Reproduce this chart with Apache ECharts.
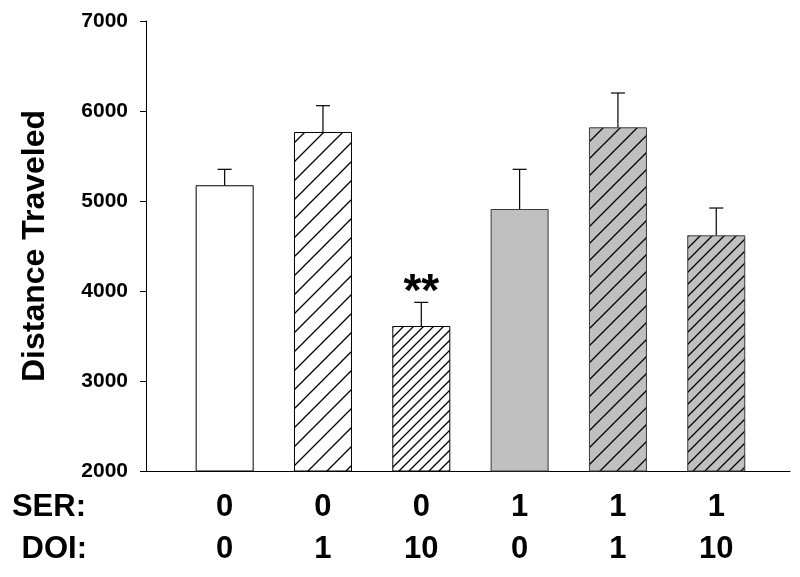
<!DOCTYPE html>
<html>
<head>
<meta charset="utf-8">
<script src="https://cdn.jsdelivr.net/npm/echarts@6/dist/echarts.min.js"></script>
<style>
  html, body { margin: 0; padding: 0; background: #fff; }
  #chart { width: 800px; height: 577px; }
</style>
</head>
<body>
<div id="chart"></div>
<script>
// ---- data ----
const serLabels = ['0', '0', '0', '1', '1', '1'];
const doiLabels = ['0', '1', '10', '0', '1', '10'];
const means = [5175, 5767, 3611, 4911, 5819, 4619];
const sems = [177, 292, 263, 441, 381, 303];
const marks = ['', '', '**', '', '', ''];
const yMin = 2000, yMax = 7000, yStep = 1000;

// ---- styles ----
const FONT = 'Liberation Sans, Arial, sans-serif';
const barStyles = [
  { fill: '#ffffff', hatch: 0, border: '#000000' },
  { fill: '#ffffff', hatch: 19, border: '#000000' },
  { fill: '#ffffff', hatch: 10, border: '#000000' },
  { fill: '#c0c0c0', hatch: 0, border: '#3a3a3a' },
  { fill: '#c0c0c0', hatch: 17, border: '#3a3a3a' },
  { fill: '#c0c0c0', hatch: 12, border: '#3a3a3a' }
];

function makeHatch(bg, s) {
  const c = document.createElement('canvas');
  c.width = s; c.height = s;
  const ctx = c.getContext('2d');
  ctx.fillStyle = bg;
  ctx.fillRect(0, 0, s, s);
  ctx.strokeStyle = '#000';
  ctx.lineWidth = 1.3;
  ctx.beginPath();
  ctx.moveTo(-1, s + 1); ctx.lineTo(s + 1, -1);
  ctx.moveTo(-2, 2); ctx.lineTo(2, -2);
  ctx.moveTo(s - 2, s + 2); ctx.lineTo(s + 2, s - 2);
  ctx.stroke();
  return c;
}

const barData = means.map((m, i) => {
  const st = barStyles[i];
  const color = st.hatch ? { image: makeHatch(st.fill, st.hatch), repeat: 'repeat' } : st.fill;
  return {
    value: [i, m],
    itemStyle: { color: color, borderColor: st.border, borderWidth: 1 }
  };
});

const errData = means.map((m, i) => [i, m, m + sems[i]]);

const chart = echarts.init(document.getElementById('chart'), null, { renderer: 'canvas' });

chart.setOption({
  animation: false,
  backgroundColor: '#ffffff',
  grid: { left: 146, right: 10, top: 21, bottom: 106 },
  xAxis: {
    type: 'value',
    min: -0.8,
    max: 5.75,
    splitLine: { show: false },
    axisLine: { show: true, onZero: false, lineStyle: { color: '#000', width: 1 } },
    axisTick: { show: false },
    axisLabel: {
      show: true,
      customValues: [0, 1, 2, 3, 4, 5],
      margin: 15,
      formatter: function (v) {
        const i = Math.round(v);
        return '{a|' + serLabels[i] + '}\n{a|' + doiLabels[i] + '}';
      },
      rich: {
        a: { fontFamily: FONT, fontWeight: 'bold', fontSize: 31, color: '#000', lineHeight: 42, align: 'center' }
      }
    }
  },
  yAxis: {
    type: 'value',
    min: yMin,
    max: yMax,
    interval: yStep,
    name: 'Distance Traveled',
    nameLocation: 'middle',
    nameGap: 95,
    nameTextStyle: { fontFamily: FONT, fontWeight: 'bold', fontSize: 32, color: '#000' },
    splitLine: { show: false },
    axisLine: { show: true, onZero: false, lineStyle: { color: '#000', width: 1 } },
    axisTick: { show: true, inside: false, length: 6, lineStyle: { color: '#000', width: 1 } },
    axisLabel: {
      margin: 18, fontFamily: FONT, fontWeight: 'bold', fontSize: 21, color: '#000',
      formatter: function (v) { return String(v); }
    }
  },
  graphic: [
    { type: 'text', x: 86, y: 507, style: { text: 'SER:', x: 0, y: 0, align: 'right', verticalAlign: 'middle', font: 'bold 31px ' + FONT, fill: '#000' } },
    { type: 'text', x: 87, y: 549, style: { text: 'DOI:', x: 0, y: 0, align: 'right', verticalAlign: 'middle', font: 'bold 31px ' + FONT, fill: '#000' } }
  ],
  series: [
    {
      type: 'bar',
      barWidth: 58,
      data: barData,
      z: 2
    },
    {
      type: 'custom',
      z: 3,
      data: errData,
      renderItem: function (params, api) {
        const x = api.value(0);
        const top = api.coord([x, api.value(1)]);
        const hi = api.coord([x, api.value(2)]);
        const mark = marks[params.dataIndex];
        const half = 7;
        const children = [
          { type: 'line', shape: { x1: top[0], y1: top[1], x2: hi[0], y2: hi[1] }, style: { stroke: '#000', lineWidth: 1.2 } },
          { type: 'line', shape: { x1: hi[0] - half, y1: hi[1], x2: hi[0] + half, y2: hi[1] }, style: { stroke: '#000', lineWidth: 1.2 } }
        ];
        if (mark) {
          children.push({ type: 'text', style: { text: mark, x: hi[0], y: hi[1] + 14, align: 'center', verticalAlign: 'bottom', font: 'bold 46px ' + FONT, fill: '#000' } });
        }
        return { type: 'group', children: children };
      }
    }
  ]
});
</script>
</body>
</html>
